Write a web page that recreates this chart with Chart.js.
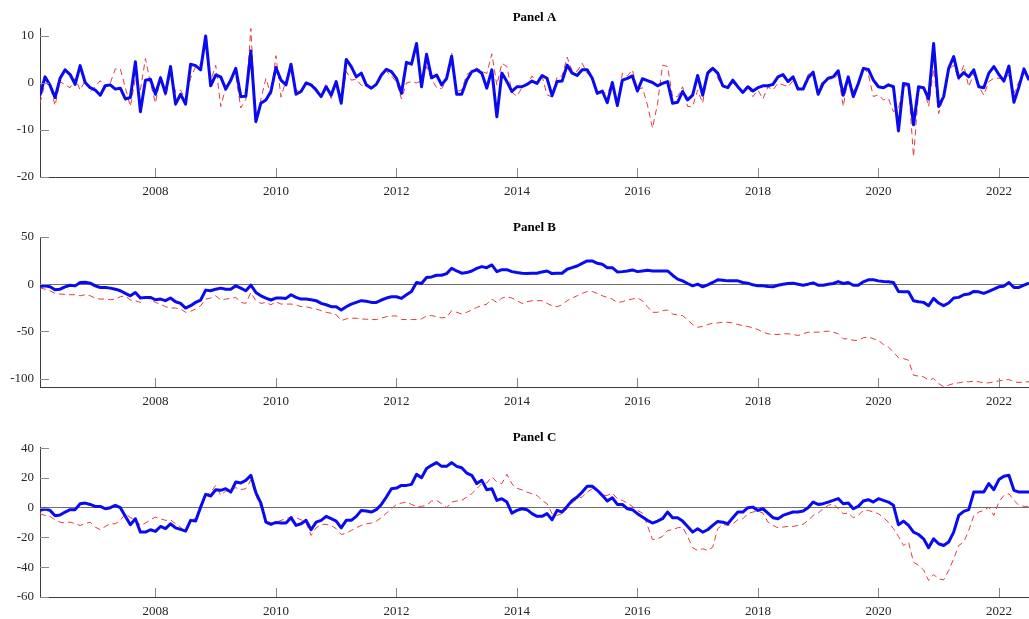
<!DOCTYPE html>
<html>
<head>
<meta charset="utf-8">
<script src="https://cdn.jsdelivr.net/npm/chart.js@4.4.0/dist/chart.umd.min.js"></script>
<style>
  html, body { margin: 0; padding: 0; background: #fff; }
  .panel { position: absolute; left: 0; width: 1029px; }
  canvas { display: block; }
</style>
</head>
<body>
<div class="panel" style="top:0px"><canvas id="panelA" width="1029" height="205"></canvas></div>
<div class="panel" style="top:205px"><canvas id="panelB" width="1029" height="210"></canvas></div>
<div class="panel" style="top:415px"><canvas id="panelC" width="1029" height="204"></canvas></div>
<script>
// monthly observations, Feb 2006 .. Jun 2022 (one row per 12 months)
const firstYear = 2006, firstMonth = 2;
const yearTicks = [2008, 2010, 2012, 2014, 2016, 2018, 2020, 2022];

const aSolid = [
  -2.6, 1.3, -0.5, -3.1, 1.0, 2.8, 1.8, -0.3, 3.7, 0.1, -1.0, -1.5,
  -2.6, -0.6, -0.4, -1.3, -1.1, -3.4, -3.1, 4.5, -6.1, 0.6, 0.8, -2.4,
  1.1, -2.2, 3.5, -4.5, -2.4, -4.5, 4.0, 3.7, 2.8, 10.0, -0.6, 1.7,
  1.3, -1.3, 0.6, 3.1, -2.9, -2.8, 6.8, -8.2, -4.3, -3.6, -1.8, 3.3,
  0.6, -0.4, 4.0, -2.4, -1.8, 0.0, -0.4, -1.5, -2.9, -0.8, -2.6, 0.3,
  -4.3, 5.0, 3.5, 1.3, 2.1, -0.4, -1.1, -0.3, 1.7, 2.9, 2.4, 1.0,
  -2.2, 4.4, 4.0, 8.4, -0.8, 6.1, 1.1, 1.7, -0.4, 1.0, 5.7, -2.4,
  -2.4, 0.6, 2.4, 2.8, 2.1, -1.1, 2.8, -7.2, 2.1, 0.3, -1.8, -0.8,
  -0.8, -0.3, 0.4, -0.1, 1.6, 1.0, -2.7, 0.3, 0.4, 3.8, 2.1, 1.6,
  2.8, 2.8, 1.0, -2.2, -1.7, -4.2, 0.1, -4.8, 0.6, 1.0, 1.5, -1.7,
  0.9, 0.5, 0.1, -0.6, -0.1, 0.3, -4.3, -4.1, -1.8, -3.6, -2.6, 1.6,
  -2.6, 2.1, 3.1, 2.1, -0.6, -1.0, 0.6, -0.8, -2.0, -0.8, -1.7, -1.0,
  -0.6, -0.6, -0.3, 1.3, 1.8, 0.3, 1.3, -1.3, -1.3, 1.1, 2.3, -2.4,
  -0.1, 1.0, 1.3, 2.6, -2.6, 1.3, -2.9, -0.1, 3.1, 2.9, 0.6, -0.8,
  -1.0, -0.4, -0.8, -10.2, -0.1, -0.3, -8.9, -0.8, -1.0, -3.4, 8.4, -5.0,
  -2.9, 3.1, 5.6, 1.1, 2.2, 1.3, 2.8, -0.8, -1.0, 2.1, 3.5, 1.8,
  0.4, 3.6, -4.1, -0.8, 3.0, 0.6
];
const aDashed = [
  -4.3, 0.0, -0.5, -4.8, 0.3, -0.4, -1.0, 1.0, -1.5, 0.5, -1.8, -0.8,
  0.5, -1.0, 0.0, 3.0, 3.0, -1.0, -5.0, 1.0, -1.5, 5.2, 0.0, -4.3,
  1.5, -3.0, 2.5, -2.0, -1.5, -3.5, 1.0, 3.5, 4.0, 9.0, 0.5, 3.8,
  -5.0, -1.0, 1.0, 1.5, -5.3, -3.5, 11.6, -8.8, -3.5, 1.0, -2.5, 5.8,
  -3.0, 0.5, 3.5, -1.5, -2.0, 0.5, -0.8, -1.0, -3.0, 0.0, -3.3, 0.5,
  -4.7, 2.5, 0.6, 0.8, -0.5, -0.2, -1.5, 0.0, 2.0, 2.5, 1.5, 0.2,
  -3.4, 0.0, 0.3, 0.0, 0.5, 3.5, 0.8, -1.0, -1.2, 0.5, 6.5, -1.8,
  -1.5, 1.8, 2.5, 3.2, 2.5, 2.0, 6.2, -0.5, 4.2, 3.5, -2.0, -2.8,
  -1.0, -0.5, 1.5, 0.0, 1.5, -2.5, -3.0, 1.3, 1.5, 5.5, 2.5, 2.5,
  4.2, 2.0, 1.5, -2.5, -2.0, -2.2, 0.0, -4.8, 2.1, 1.5, 2.8, -1.5,
  -1.0, -4.7, -9.6, -4.5, 3.8, 3.5, -2.9, -2.9, -0.8, -5.0, -5.0, -1.5,
  -4.3, 2.5, 3.6, 1.0, -0.8, -0.8, 0.0, -0.8, -2.2, -0.3, -2.9, -1.5,
  -3.4, -0.8, -1.5, 0.0, -0.4, -0.8, 0.5, -1.0, -0.8, 1.8, 2.2, -1.5,
  0.5, 1.0, 0.8, 1.8, -5.0, 1.3, -1.8, 0.0, 3.5, 1.8, -2.9, -2.5,
  -3.6, -3.3, -6.1, -5.4, -0.8, -0.5, -15.7, -1.8, -1.0, -5.0, 3.0, -6.5,
  -2.9, 2.8, 3.8, 0.6, 3.8, -0.8, 2.0, -0.8, -2.6, 0.3, 1.0, 1.0,
  1.0, 1.7, -2.2, 0.3, 2.0, 1.7
];

const bSolid = [
  -2.5, -1.8, -2.8, -6.0, -5.3, -2.8, -1.1, -1.8, 1.8, 2.1, 1.1, -1.8,
  -3.5, -3.5, -4.2, -5.3, -7.0, -9.8, -12.3, -8.8, -14.7, -14.0, -14.0, -16.5,
  -15.8, -17.5, -14.7, -18.6, -20.4, -25.3, -22.8, -19.3, -16.8, -6.3, -7.0, -5.3,
  -4.2, -5.3, -5.3, -1.8, -4.2, -7.0, -1.1, -8.8, -12.3, -14.7, -16.8, -14.7,
  -14.7, -15.1, -11.2, -14.0, -15.8, -15.8, -16.5, -17.5, -20.4, -21.8, -23.9, -23.9,
  -27.4, -23.9, -21.1, -19.3, -17.5, -18.2, -19.3, -19.3, -16.8, -14.7, -13.3, -13.3,
  -15.1, -11.2, -7.7, 1.8, 0.7, 7.0, 7.7, 9.5, 9.5, 11.2, 16.8, 14.0,
  11.6, 12.3, 14.0, 16.8, 18.6, 17.5, 20.4, 13.3, 15.4, 15.4, 13.3, 12.3,
  11.6, 11.2, 11.6, 11.6, 13.0, 14.0, 11.2, 11.6, 11.6, 15.8, 17.5, 19.3,
  22.1, 24.6, 24.6, 22.1, 21.1, 17.5, 17.5, 13.0, 13.3, 14.0, 15.1, 13.3,
  14.0, 14.7, 14.0, 14.0, 14.0, 14.0, 9.5, 5.3, 3.5, 0.7, -1.8, 0.0,
  -2.8, -0.7, 1.8, 4.6, 4.2, 3.5, 3.5, 3.5, 1.8, 1.1, -0.7, -1.8,
  -1.8, -2.5, -2.8, -1.1, 0.0, 0.7, 1.1, 0.0, -1.1, 0.0, 1.4, -1.1,
  -1.1, 0.0, 0.7, 2.8, 0.7, 1.8, -1.1, -1.1, 2.5, 4.6, 4.6, 3.5,
  2.8, 2.5, 1.8, -7.7, -8.1, -8.1, -17.5, -18.6, -19.3, -22.8, -15.1, -20.0,
  -22.8, -20.0, -14.7, -14.0, -11.2, -10.5, -7.7, -8.1, -9.8, -7.7, -5.3, -2.8,
  -2.1, 1.8, -3.5, -3.5, -1.1, 1.1
];
const bDashed = [
  -4.2, -5.3, -7.0, -9.8, -10.5, -10.9, -11.2, -11.2, -12.3, -11.2, -12.3, -14.7,
  -15.8, -15.8, -16.5, -15.8, -13.3, -12.3, -16.8, -17.5, -19.3, -14.7, -15.8, -19.3,
  -21.1, -23.9, -25.3, -25.3, -26.3, -29.8, -28.8, -26.3, -22.8, -15.8, -14.7, -12.3,
  -16.8, -15.8, -15.1, -14.0, -19.3, -20.4, -8.8, -17.5, -20.4, -19.3, -21.8, -18.6,
  -21.1, -21.1, -21.1, -21.8, -23.9, -23.9, -25.3, -26.3, -28.1, -29.8, -30.9, -32.3,
  -38.6, -36.8, -36.1, -36.1, -36.8, -37.2, -37.5, -37.5, -36.1, -34.4, -33.7, -33.7,
  -37.5, -37.5, -37.5, -37.5, -36.8, -33.7, -33.3, -34.4, -35.8, -35.1, -28.1, -29.8,
  -31.6, -29.8, -27.4, -24.6, -22.8, -21.1, -15.8, -19.3, -14.7, -13.3, -14.7, -17.5,
  -20.4, -18.6, -17.5, -17.5, -17.5, -20.4, -22.8, -23.9, -21.8, -17.5, -14.7, -12.3,
  -9.8, -7.7, -7.7, -9.8, -12.3, -14.0, -15.8, -19.3, -18.6, -16.8, -15.8, -14.7,
  -17.5, -23.9, -29.8, -29.8, -28.1, -27.4, -31.6, -32.6, -33.3, -37.9, -42.8, -45.6,
  -44.9, -42.8, -41.4, -41.1, -40.4, -40.4, -41.1, -42.8, -43.9, -44.9, -46.3, -48.1,
  -50.9, -52.6, -53.3, -53.3, -52.6, -52.6, -53.3, -54.4, -52.6, -50.9, -50.9, -50.9,
  -50.2, -49.8, -50.9, -52.6, -57.9, -57.9, -59.6, -59.6, -56.8, -56.1, -57.9, -59.6,
  -63.9, -66.7, -71.9, -77.9, -78.9, -80.7, -96.5, -97.5, -98.2, -101.8, -100.0, -105.3,
  -108.8, -107.0, -105.3, -104.6, -103.5, -103.5, -102.8, -103.5, -104.6, -104.6, -103.5, -102.5,
  -101.8, -101.1, -103.5, -104.2, -103.5, -103.5
];

const cSolid = [
  -1.8, -0.9, -1.8, -5.4, -4.9, -2.9, -1.3, -1.3, 2.7, 3.1, 2.2, 0.9,
  0.9, -0.7, 0.0, 1.6, 0.0, -5.8, -11.4, -7.4, -16.4, -16.4, -14.8, -15.9,
  -12.6, -14.1, -10.8, -13.5, -14.6, -15.7, -8.5, -9.0, 0.4, 9.0, 7.9, 12.1,
  11.7, 12.8, 10.5, 17.3, 16.6, 18.4, 21.8, 10.1, 3.1, -9.7, -11.2, -9.9,
  -10.3, -10.3, -6.7, -11.9, -10.8, -8.5, -14.8, -9.7, -8.5, -5.8, -7.4, -9.0,
  -13.5, -8.5, -8.5, -5.8, -1.8, -2.2, -2.9, -1.3, 2.2, 7.2, 12.8, 13.2,
  15.0, 15.0, 15.7, 22.4, 20.2, 26.3, 28.5, 30.3, 27.8, 27.8, 30.3, 27.8,
  26.9, 23.3, 21.8, 16.2, 18.4, 12.1, 12.8, 4.9, 6.1, 3.8, -3.6, -1.8,
  -0.7, -1.3, -4.0, -5.8, -5.8, -4.0, -8.1, -1.8, -2.9, 0.9, 4.9, 7.2,
  10.5, 14.4, 14.4, 11.7, 8.3, 4.5, 6.7, 2.2, 2.2, -0.7, -1.3, -4.0,
  -6.3, -8.5, -10.3, -9.0, -7.4, -2.9, -6.7, -6.7, -9.0, -12.6, -16.4, -14.1,
  -16.4, -14.8, -11.9, -9.2, -9.7, -10.8, -6.7, -2.9, -2.9, 0.0, 0.4, -1.8,
  -0.7, -3.6, -6.7, -7.4, -5.2, -4.0, -2.9, -2.9, -2.2, 0.0, 3.8, 2.2,
  2.7, 3.8, 4.9, 6.1, 2.7, 3.1, -0.7, 0.9, 4.5, 5.4, 3.8, 6.1,
  4.9, 3.8, 1.6, -11.4, -9.0, -11.9, -16.4, -18.0, -20.9, -26.9, -20.9, -24.2,
  -25.4, -23.1, -16.4, -5.2, -2.5, -1.3, 10.5, 10.5, 10.5, 16.2, 12.1, 18.9,
  21.1, 21.8, 11.7, 10.5, 10.5, 10.5
];
const cDashed = [
  -4.0, -5.2, -5.8, -8.1, -9.7, -10.3, -9.7, -10.8, -11.9, -10.8, -9.7, -13.0,
  -14.8, -12.6, -10.8, -10.8, -8.5, -4.0, -6.7, -8.1, -11.9, -10.3, -8.1, -6.3,
  -7.4, -8.5, -8.1, -10.8, -13.0, -16.4, -9.7, -6.3, -0.7, 8.3, 10.5, 15.0,
  8.3, 11.2, 11.7, 13.5, 12.1, 12.8, 18.4, 8.3, 0.4, -8.1, -10.3, -9.7,
  -8.5, -7.4, -6.3, -6.7, -8.1, -10.3, -18.6, -13.5, -11.2, -11.2, -11.9, -14.1,
  -18.0, -17.1, -15.3, -13.5, -11.9, -10.8, -10.3, -9.0, -6.7, -3.6, -0.7, 2.2,
  3.1, 3.8, 2.2, 0.9, 0.9, 1.6, 4.5, 4.9, 2.7, 0.0, 3.8, 4.5,
  4.9, 7.2, 9.4, 12.8, 16.2, 16.6, 20.7, 17.3, 16.2, 22.5, 16.0, 13.0,
  12.0, 10.5, 9.4, 8.3, 4.9, 2.7, -4.0, -5.2, -4.0, -0.7, 3.1, 6.1,
  7.2, 10.5, 12.8, 11.7, 8.3, 8.3, 9.9, 6.1, 4.9, 3.1, 0.9, -1.8,
  -3.6, -11.9, -21.5, -20.9, -19.3, -15.3, -14.8, -13.5, -13.0, -19.3, -26.9, -28.7,
  -27.6, -28.7, -26.5, -14.1, -11.2, -11.9, -10.8, -8.1, -7.4, -4.0, -2.9, -2.2,
  -3.6, -9.7, -11.9, -13.5, -13.0, -12.6, -12.6, -11.9, -11.2, -8.5, -5.2, -3.6,
  -0.7, 1.6, 2.7, -0.7, -4.0, -3.6, -6.7, -5.2, -1.8, -1.8, -2.9, -4.0,
  -6.7, -9.7, -14.1, -19.3, -25.4, -23.1, -36.6, -38.8, -41.8, -48.9, -44.9, -47.8,
  -48.5, -42.2, -34.3, -25.4, -23.1, -15.3, -5.2, -2.9, -1.8, 0.4, -5.2, 3.8,
  8.3, 9.4, 4.9, 1.6, 0.9, 0.9
];

const months = aSolid.map((_, i) => firstYear + (firstMonth - 1 + i) / 12);

const axisColor = '#3c3c3c';
const tickMarkColor = '#8a8a8a';
const zeroColor = '#6e6e6e';
const labelColor = '#262626';
const tickFont = { family: '"Liberation Serif", "Times New Roman", serif', size: 13 };

// MATLAB-style inward ticks and bold title above each axes
const panelDecor = {
  id: 'panelDecor',
  afterDraw(chart, args, opts) {
    const { ctx, chartArea, scales } = chart;
    ctx.save();
    ctx.strokeStyle = tickMarkColor;
    ctx.lineWidth = 1;
    ctx.beginPath();
    scales.x.ticks.forEach(t => {
      const px = Math.round(scales.x.getPixelForValue(t.value)) + 0.5;
      ctx.moveTo(px, chartArea.bottom);
      ctx.lineTo(px, chartArea.bottom - 9);
    });
    scales.y.ticks.forEach(t => {
      const py = Math.round(scales.y.getPixelForValue(t.value)) + 0.5;
      ctx.moveTo(chartArea.left, py);
      ctx.lineTo(chartArea.left + 9, py);
    });
    ctx.stroke();
    ctx.fillStyle = '#000';
    ctx.font = 'bold 13px "Liberation Serif", serif';
    ctx.textAlign = 'center';
    ctx.textBaseline = 'middle';
    ctx.fillText(opts.title, (chartArea.left + chartArea.right) / 2, chartArea.top - opts.titleGap);
    ctx.restore();
  }
};

function makePanel(id, title, titleGap, solid, dashed, yMin, yMax, yTicks, padTop, axisHeight, zeroLine) {
  return new Chart(document.getElementById(id), {
    type: 'line',
    data: {
      datasets: [
        {
          data: solid.map((v, i) => ({ x: months[i], y: v })),
          borderColor: '#0a0af0',
          borderWidth: 3,
          borderJoinStyle: 'round',
          pointRadius: 0,
          tension: 0
        },
        {
          data: dashed.map((v, i) => ({ x: months[i], y: v })),
          borderColor: 'rgb(226, 60, 60)',
          borderWidth: 1,
          borderDash: [6, 4],
          pointRadius: 0,
          tension: 0
        }
      ]
    },
    options: {
      responsive: false,
      animation: false,
      layout: { padding: { top: padTop, left: 0, right: 0, bottom: 0 } },
      plugins: {
        legend: { display: false },
        tooltip: { enabled: false },
        panelDecor: { title: title, titleGap: titleGap }
      },
      scales: {
        x: {
          type: 'linear',
          min: months[0],
          max: months[months.length - 1],
          afterBuildTicks: s => { s.ticks = yearTicks.map(v => ({ value: v })); },
          afterFit: s => { s.height = axisHeight; },
          grid: { display: false, drawTicks: false },
          border: { display: true, color: axisColor, width: 1 },
          ticks: {
            padding: 7,
            color: labelColor,
            font: tickFont,
            maxRotation: 0,
            autoSkip: false,
            callback: v => String(v)
          }
        },
        y: {
          min: yMin,
          max: yMax,
          afterBuildTicks: s => { s.ticks = yTicks.map(v => ({ value: v })); },
          afterFit: s => { s.width = 40; },
          grid: {
            display: zeroLine,
            drawTicks: false,
            lineWidth: 1,
            color: c => (c.tick && c.tick.value === 0) ? zeroColor : 'rgba(0,0,0,0)'
          },
          border: { display: true, color: axisColor, width: 1 },
          ticks: {
            padding: 6,
            color: labelColor,
            font: tickFont,
            callback: v => String(v)
          }
        }
      }
    },
    plugins: [panelDecor]
  });
}

makePanel('panelA', 'Panel A', 10, aSolid, aDashed, -20, 11.7, [-20, -10, 0, 10], 28, 28, false);
makePanel('panelB', 'Panel B', 9.5, bSolid, bDashed, -109, 50, [-100, -50, 0, 50], 32, 28, true);
makePanel('panelC', 'Panel C', 9, cSolid, cDashed, -60, 40.8, [-60, -40, -20, 0, 20, 40], 32, 22, true);
</script>
</body>
</html>
